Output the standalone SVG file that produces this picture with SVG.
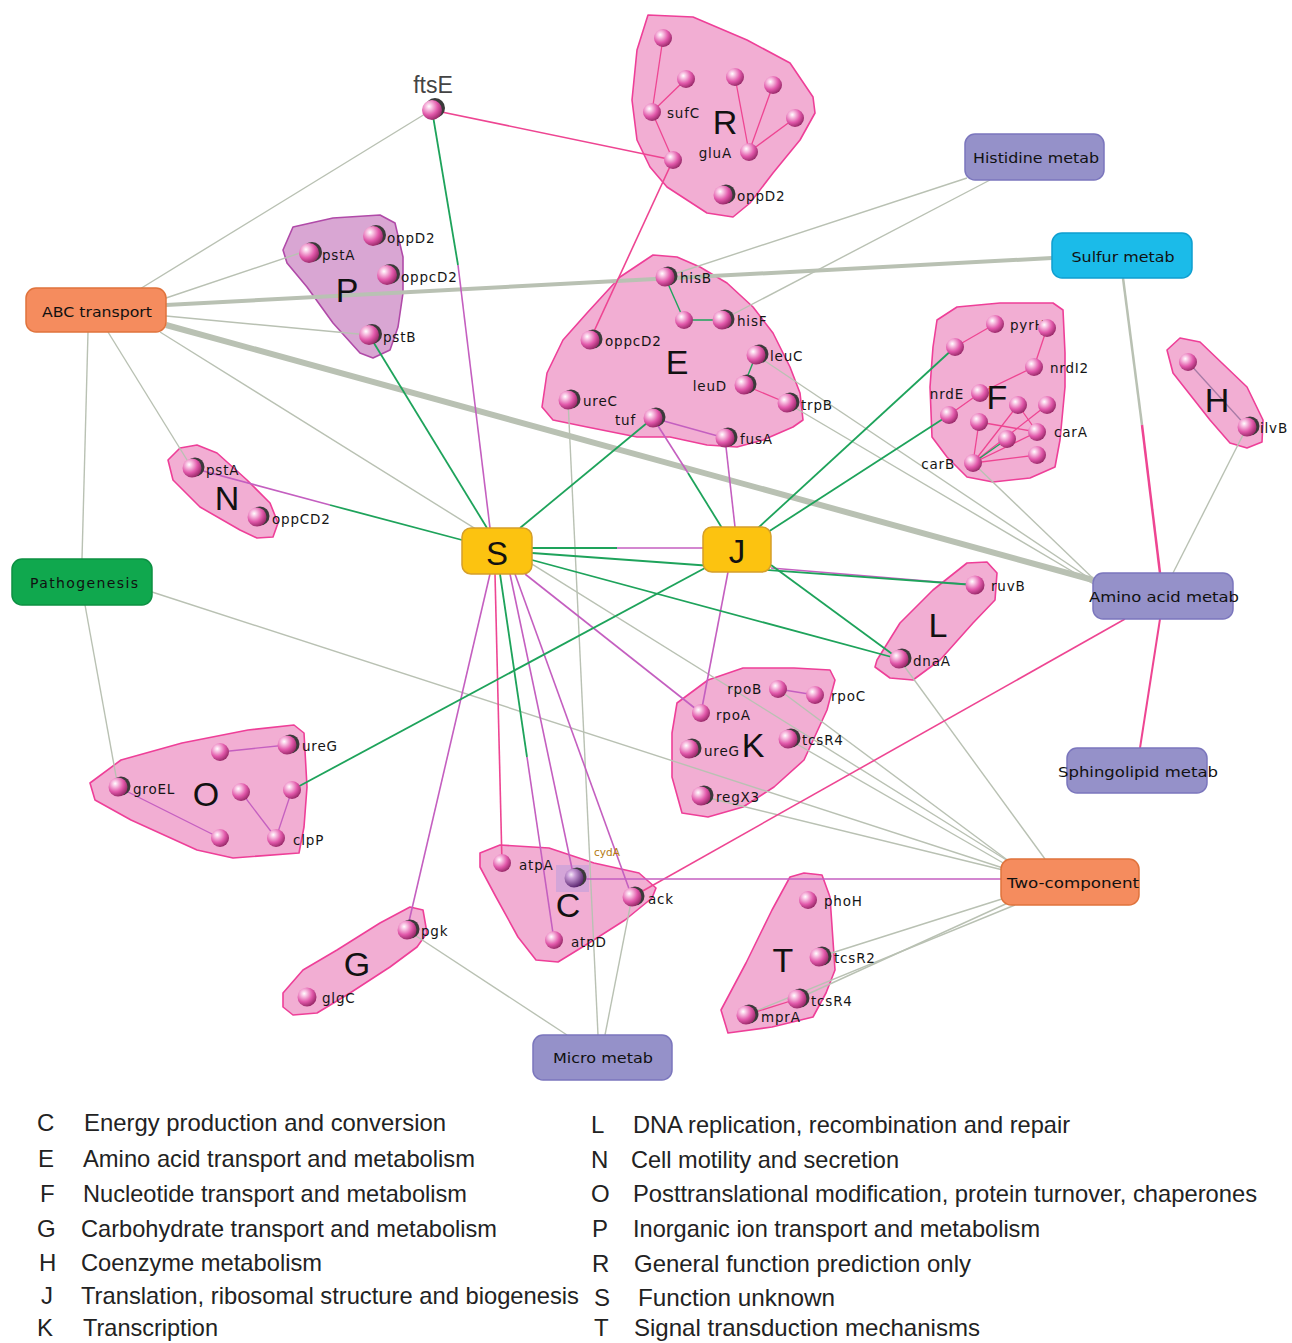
<svg xmlns="http://www.w3.org/2000/svg" width="1292" height="1343" viewBox="0 0 1292 1343">
<defs>
  <radialGradient id="sphere" cx="35%" cy="32%" r="70%">
    <stop offset="0" stop-color="#ffffff"/>
    <stop offset="0.22" stop-color="#f8c2e2"/>
    <stop offset="0.62" stop-color="#e158aa"/>
    <stop offset="1" stop-color="#9a2a6a"/>
  </radialGradient>
  <radialGradient id="sphereP" cx="35%" cy="32%" r="70%">
    <stop offset="0" stop-color="#f4e8f6"/>
    <stop offset="0.3" stop-color="#c89ad6"/>
    <stop offset="1" stop-color="#5a2670"/>
  </radialGradient>
  <style>
    .hull{fill:#f2aed3;stroke:#ee3f98;stroke-width:1.6;stroke-linejoin:round}
    .hullP{fill:#d9a6d3;stroke:#b04aa8;stroke-width:1.6;stroke-linejoin:round}
    .g{stroke:#b9c1b3;stroke-width:1.4;fill:none}
    .gr{stroke:#1ea35b;stroke-width:1.8;fill:none}
    .pu{stroke:#c45fc0;stroke-width:1.6;fill:none}
    .pk{stroke:#ee4592;stroke-width:1.6;fill:none}
    .ball{fill:url(#sphere)}
    .sh{fill:#3a3a3a}
    .lab{font-family:"DejaVu Sans",sans-serif;font-size:13.5px;letter-spacing:0.8px;fill:#151515}
    .big{font-family:"Liberation Sans",Arial,sans-serif;font-size:34px;fill:#111;text-anchor:middle}
    .box{stroke-width:1.5}
    .orange{fill:#f58c5e;stroke:#e0733c}
    .lav{fill:#9591c9;stroke:#7b76bd}
    .cyan{fill:#1bbbe9;stroke:#0f9fd0}
    .grn{fill:#10a84e;stroke:#0c9042}
    .gold{fill:#fcc310;stroke:#d59f2a}
    .blab{font-family:"DejaVu Sans",sans-serif;font-size:14px;fill:#111;text-anchor:middle}
    .leg{font-family:"Liberation Sans",Arial,sans-serif;font-size:24px;fill:#222}
  </style>
</defs>
<rect width="1292" height="1343" fill="#ffffff"/>

<!-- cluster hulls -->
<g id="clusters">
  <g id="cluster-P"><polygon class="hullP" points="283,250 293,227 333,218 380,215 395,223 403,257 403,293 398,327 390,350 373,358 360,353 333,323 307,287 287,263"/></g>
  <g id="cluster-R"><polygon class="hull" points="648,15 693,17 747,40 790,63 813,97 815,113 800,140 773,173 750,203 733,217 707,213 687,200 667,187 650,167 637,140 632,100 637,50"/></g>
  <g id="cluster-E"><polygon class="hull" points="653,255 677,257 700,267 727,283 753,307 773,333 790,367 800,393 803,420 793,427 763,440 737,447 707,445 670,437 637,437 587,427 553,420 542,407 547,373 563,340 587,313 620,277"/></g>
  <g id="cluster-F"><polygon class="hull" points="937,320 957,307 1000,303 1053,303 1063,310 1065,353 1065,387 1060,440 1055,467 1030,478 993,482 967,477 947,457 932,437 930,387 933,347"/></g>
  <g id="cluster-H"><polygon class="hull" points="1167,350 1180,338 1200,342 1247,387 1263,420 1262,442 1247,448 1230,443 1210,420 1173,373"/></g>
  <g id="cluster-N"><polygon class="hull" points="168,460 180,448 197,445 217,453 247,480 270,503 278,523 273,537 257,538 240,530 200,507 173,480"/></g>
  <g id="cluster-L"><polygon class="hull" points="877,660 900,623 933,590 967,563 987,562 997,573 995,600 973,623 940,660 913,680 890,678 875,667"/></g>
  <g id="cluster-O"><polygon class="hull" points="90,783 121,760 182,743 248,730 294,725 304,733 307,787 304,827 299,853 233,858 197,850 131,820 95,800"/></g>
  <g id="cluster-K"><polygon class="hull" points="677,703 708,680 743,668 794,668 830,670 835,680 827,710 804,760 774,787 743,807 708,817 682,813 672,777 672,733"/></g>
  <g id="cluster-C"><polygon class="hull" points="480,853 500,845 549,848 594,863 639,873 656,888 652,898 625,920 589,943 558,962 536,960 518,937 496,897 480,867"/>
    <rect x="556" y="865" width="33" height="27" fill="#c9a2d9" opacity="0.75"/></g>
  <g id="cluster-T"><polygon class="hull" points="790,877 804,873 822,875 830,897 835,970 826,993 813,1017 772,1027 728,1033 721,1010 746,963 772,910"/></g>
  <g id="cluster-G"><polygon class="hull" points="283,993 303,970 337,950 380,923 410,907 423,910 427,933 417,947 390,967 350,993 317,1013 293,1015 283,1007"/></g>
</g>

<!-- connectors -->
<g id="connectors">
  <!-- grey: category links -->
  <line class="g" x1="135" y1="292" x2="425" y2="114"/>
  <line class="g" x1="166" y1="298" x2="300" y2="253"/>
  <line class="g" x1="166" y1="305" x2="1052" y2="258" style="stroke-width:4"/>
  <line class="g" x1="166" y1="316" x2="369" y2="335"/>
  <line class="g" x1="166" y1="325" x2="1093" y2="580" style="stroke-width:6"/>
  <line class="g" x1="160" y1="332" x2="1008" y2="861"/>
  <line class="g" x1="108" y1="332" x2="192" y2="468"/>
  <line class="g" x1="88" y1="332" x2="82" y2="559"/>
  <line class="g" x1="85" y1="605" x2="118" y2="787"/>
  <line class="g" x1="152" y1="592" x2="1003" y2="868"/>
  <line class="g" x1="967" y1="178" x2="665" y2="277"/>
  <line class="g" x1="990" y1="180" x2="722" y2="320"/>
  <line class="g" x1="1123" y1="278" x2="1142" y2="425" style="stroke-width:2.5"/>
  <line class="g" x1="756" y1="355" x2="1095" y2="582"/>
  <line class="g" x1="787" y1="403" x2="1097" y2="586"/>
  <line class="g" x1="973" y1="463" x2="1100" y2="585"/>
  <line class="g" x1="1247" y1="427" x2="1173" y2="573"/>
  <line class="g" x1="568" y1="400" x2="598" y2="1035"/>
  <line class="g" x1="632" y1="897" x2="605" y2="1035"/>
  <line class="g" x1="407" y1="930" x2="567" y2="1035"/>
  <line class="g" x1="899" y1="659" x2="1045" y2="859"/>
  <line class="g" x1="778" y1="689" x2="1010" y2="862"/>
  <line class="g" x1="788" y1="739" x2="1005" y2="864"/>
  <line class="g" x1="701" y1="796" x2="1003" y2="870"/>
  <line class="g" x1="819" y1="957" x2="1005" y2="898"/>
  <line class="g" x1="797" y1="999" x2="1010" y2="902"/>
  <line class="g" x1="746" y1="1015" x2="1015" y2="905"/>
  <!-- pink -->
  <line class="pk" x1="1142" y1="425" x2="1160" y2="573" style="stroke-width:2.5"/>
  <line class="pk" x1="1160" y1="619" x2="1140" y2="748" style="stroke-width:2"/>
  <line class="pk" x1="1125" y1="619" x2="632" y2="897"/>
  <line class="pk" x1="432" y1="110" x2="673" y2="160"/>
  <line class="pk" x1="673" y1="160" x2="590" y2="340"/>
  <line class="pk" x1="495" y1="574" x2="502" y2="863"/>
  <!-- purple -->
  <line class="pu" x1="458" y1="265" x2="490" y2="528"/>
  <line class="pu" x1="192" y1="468" x2="330" y2="505"/>
  <line class="pu" x1="490" y1="574" x2="407" y2="930"/>
  <line class="pu" x1="510" y1="574" x2="574" y2="878"/>
  <line class="pu" x1="527" y1="757" x2="554" y2="940"/>
  <line class="pu" x1="515" y1="574" x2="632" y2="897"/>
  <line class="pu" x1="525" y1="574" x2="701" y2="713"/>
  <line class="pu" x1="728" y1="572" x2="701" y2="713"/>
  <line class="pu" x1="771" y1="568" x2="975" y2="585"/>
  <line class="pu" x1="574" y1="879" x2="1001" y2="879"/>
  <line class="pu" x1="617" y1="548" x2="703" y2="548"/>
  <line class="pu" x1="725" y1="438" x2="735" y2="527"/>
  <line class="pu" x1="653" y1="418" x2="688" y2="473"/>
  <!-- green -->
  <line class="gr" x1="432" y1="110" x2="458" y2="265"/>
  <line class="gr" x1="369" y1="335" x2="487" y2="528"/>
  <line class="gr" x1="330" y1="505" x2="462" y2="540"/>
  <line class="gr" x1="520" y1="528" x2="653" y2="418"/>
  <line class="gr" x1="532" y1="548" x2="617" y2="548"/>
  <line class="gr" x1="532" y1="553" x2="975" y2="585"/>
  <line class="gr" x1="532" y1="560" x2="899" y2="659"/>
  <line class="gr" x1="771" y1="565" x2="899" y2="659"/>
  <line class="gr" x1="705" y1="568" x2="292" y2="790"/>
  <line class="gr" x1="758" y1="528" x2="955" y2="347"/>
  <line class="gr" x1="768" y1="532" x2="949" y2="415"/>
  <line class="gr" x1="500" y1="574" x2="527" y2="757"/>
  <line class="gr" x1="688" y1="473" x2="722" y2="528"/>
  <!-- links inside clusters -->
  <g class="pk" style="stroke-width:1.3">
    <line x1="663" y1="38" x2="652" y2="112"/>
    <line x1="686" y1="79" x2="652" y2="112"/>
    <line x1="652" y1="112" x2="673" y2="160"/>
    <line x1="735" y1="77" x2="749" y2="152"/>
    <line x1="773" y1="85" x2="749" y2="152"/>
    <line x1="795" y1="118" x2="749" y2="152"/>
    <line x1="744" y1="385" x2="787" y2="403"/>
    <line x1="955" y1="347" x2="995" y2="324"/>
    <line x1="1047" y1="328" x2="1034" y2="367"/>
    <line x1="1034" y1="367" x2="980" y2="393"/>
    <line x1="980" y1="393" x2="949" y2="415"/>
    <line x1="979" y1="422" x2="973" y2="463"/>
    <line x1="1018" y1="405" x2="973" y2="463"/>
    <line x1="1047" y1="405" x2="973" y2="463"/>
    <line x1="1037" y1="432" x2="973" y2="463"/>
    <line x1="1037" y1="455" x2="973" y2="463"/>
    <line x1="979" y1="422" x2="1037" y2="432"/>
    <line x1="1018" y1="405" x2="1037" y2="432"/>
    <line x1="746" y1="1015" x2="797" y2="999"/>
  </g>
  <g class="gr" style="stroke-width:1.4">
    <line x1="665" y1="277" x2="684" y2="320"/>
    <line x1="684" y1="320" x2="722" y2="320"/>
    <line x1="756" y1="355" x2="744" y2="385"/>
    <line x1="1007" y1="439" x2="973" y2="463"/>
  </g>
  <g class="pu" style="stroke-width:1.3">
    <line x1="653" y1="418" x2="725" y2="438"/>
    <line x1="778" y1="689" x2="815" y2="695"/>
    <line x1="220" y1="752" x2="287" y2="745"/>
    <line x1="118" y1="787" x2="220" y2="838"/>
    <line x1="241" y1="792" x2="276" y2="838"/>
    <line x1="292" y1="790" x2="276" y2="838"/>
    <line x1="1188" y1="362" x2="1247" y2="427" style="stroke:#a77ba6"/>
  </g>
</g>

<!-- cluster letters -->
<g id="cluster-letters">
  <text class="big" x="347" y="302">P</text>
  <text class="big" x="725" y="134">R</text>
  <text class="big" x="677" y="374">E</text>
  <text class="big" x="997" y="409">F</text>
  <text class="big" x="1217" y="412">H</text>
  <text class="big" x="227" y="510">N</text>
  <text class="big" x="938" y="637">L</text>
  <text class="big" x="753" y="757">K</text>
  <text class="big" x="206" y="806">O</text>
  <text class="big" x="568" y="917">C</text>
  <text class="big" x="783" y="972">T</text>
  <text class="big" x="357" y="976">G</text>
</g>

<!-- gene nodes -->
<g id="n-ftsE"><circle class="sh" cx="435" cy="108" r="10"/><circle class="ball" cx="432" cy="110" r="10"/>
  <text x="433" y="93" style="font-family:'Liberation Sans',Arial,sans-serif;font-size:23px;fill:#444;text-anchor:middle">ftsE</text></g>

<g id="n-P-pstA"><circle class="sh" cx="312" cy="252" r="10"/><circle class="ball" cx="309" cy="253" r="10"/><text class="lab" x="322" y="260">pstA</text></g>
<g id="n-P-oppD2"><circle class="sh" cx="376" cy="235" r="10"/><circle class="ball" cx="373" cy="236" r="10"/><text class="lab" x="387" y="243">oppD2</text></g>
<g id="n-P-oppcD2"><circle class="sh" cx="390" cy="274" r="10"/><circle class="ball" cx="387" cy="275" r="10"/><text class="lab" x="401" y="282">oppcD2</text></g>
<g id="n-P-pstB"><circle class="sh" cx="372" cy="334" r="10"/><circle class="ball" cx="369" cy="335" r="10"/><text class="lab" x="383" y="342">pstB</text></g>

<g id="n-R-1"><circle class="ball" cx="663" cy="38" r="9"/></g>
<g id="n-R-2"><circle class="ball" cx="686" cy="79" r="9"/></g>
<g id="n-R-sufC"><circle class="ball" cx="652" cy="112" r="9"/><text class="lab" x="667" y="118">sufC</text></g>
<g id="n-R-4"><circle class="ball" cx="673" cy="160" r="9"/></g>
<g id="n-R-5"><circle class="ball" cx="735" cy="77" r="9"/></g>
<g id="n-R-6"><circle class="ball" cx="773" cy="85" r="9"/></g>
<g id="n-R-7"><circle class="ball" cx="795" cy="118" r="9"/></g>
<g id="n-R-gluA"><circle class="ball" cx="749" cy="152" r="9"/><text class="lab" x="732" y="158" text-anchor="end">gluA</text></g>
<g id="n-R-oppD2"><circle class="sh" cx="726" cy="194" r="9.5"/><circle class="ball" cx="723" cy="195" r="9.5"/><text class="lab" x="737" y="201">oppD2</text></g>

<g id="n-E-hisB"><circle class="sh" cx="668" cy="276" r="9.5"/><circle class="ball" cx="665" cy="277" r="9.5"/><text class="lab" x="680" y="283">hisB</text></g>
<g id="n-E-2"><circle class="ball" cx="684" cy="320" r="9"/></g>
<g id="n-E-hisF"><circle class="sh" cx="725" cy="319" r="9.5"/><circle class="ball" cx="722" cy="320" r="9.5"/><text class="lab" x="737" y="326">hisF</text></g>
<g id="n-E-oppcD2"><circle class="sh" cx="593" cy="339" r="9.5"/><circle class="ball" cx="590" cy="340" r="9.5"/><text class="lab" x="605" y="346">oppcD2</text></g>
<g id="n-E-leuC"><circle class="sh" cx="759" cy="354" r="9.5"/><circle class="ball" cx="756" cy="355" r="9.5"/><text class="lab" x="770" y="361">leuC</text></g>
<g id="n-E-leuD"><circle class="sh" cx="747" cy="384" r="9.5"/><circle class="ball" cx="744" cy="385" r="9.5"/><text class="lab" x="727" y="391" text-anchor="end">leuD</text></g>
<g id="n-E-trpB"><circle class="sh" cx="790" cy="402" r="9.5"/><circle class="ball" cx="787" cy="403" r="9.5"/><text class="lab" x="801" y="410">trpB</text></g>
<g id="n-E-ureC"><circle class="sh" cx="571" cy="399" r="9.5"/><circle class="ball" cx="568" cy="400" r="9.5"/><text class="lab" x="583" y="406">ureC</text></g>
<g id="n-E-tuf"><circle class="sh" cx="656" cy="417" r="9.5"/><circle class="ball" cx="653" cy="418" r="9.5"/><text class="lab" x="636" y="425" text-anchor="end">tuf</text></g>
<g id="n-E-fusA"><circle class="sh" cx="728" cy="437" r="9.5"/><circle class="ball" cx="725" cy="438" r="9.5"/><text class="lab" x="740" y="444">fusA</text></g>

<g id="n-F-pyrH"><text class="lab" x="1010" y="330">pyrH</text><circle class="ball" cx="995" cy="324" r="9"/></g>
<g id="n-F-1"><circle class="ball" cx="955" cy="347" r="9"/></g>
<g id="n-F-3"><circle class="ball" cx="1047" cy="328" r="9"/></g>
<g id="n-F-nrdI2"><circle class="ball" cx="1034" cy="367" r="9"/><text class="lab" x="1050" y="373">nrdI2</text></g>
<g id="n-F-nrdE"><circle class="ball" cx="980" cy="393" r="9"/><text class="lab" x="964" y="399" text-anchor="end">nrdE</text></g>
<g id="n-F-6"><circle class="ball" cx="949" cy="415" r="9"/></g>
<g id="n-F-7"><circle class="ball" cx="1018" cy="405" r="9"/></g>
<g id="n-F-8"><circle class="ball" cx="1047" cy="405" r="9"/></g>
<g id="n-F-9"><circle class="ball" cx="979" cy="422" r="9"/></g>
<g id="n-F-carA"><circle class="ball" cx="1037" cy="432" r="9"/><text class="lab" x="1054" y="437">carA</text></g>
<g id="n-F-11"><circle class="ball" cx="1007" cy="439" r="9"/></g>
<g id="n-F-12"><circle class="ball" cx="1037" cy="455" r="9"/></g>
<g id="n-F-carB"><circle class="ball" cx="973" cy="463" r="9"/><text class="lab" x="955" y="469" text-anchor="end">carB</text></g>

<g id="n-H-1"><circle class="ball" cx="1188" cy="362" r="9"/></g>
<g id="n-H-ilvB"><circle class="sh" cx="1250" cy="426" r="9.5"/><circle class="ball" cx="1247" cy="427" r="9.5"/><text class="lab" x="1260" y="433">ilvB</text></g>

<g id="n-N-pstA"><circle class="sh" cx="195" cy="467" r="9.5"/><circle class="ball" cx="192" cy="468" r="9.5"/><text class="lab" x="206" y="475">pstA</text></g>
<g id="n-N-oppCD2"><circle class="sh" cx="260" cy="516" r="9.5"/><circle class="ball" cx="257" cy="517" r="9.5"/><text class="lab" x="272" y="524">oppCD2</text></g>

<g id="n-L-ruvB"><circle class="ball" cx="975" cy="585" r="9.5"/><text class="lab" x="991" y="591">ruvB</text></g>
<g id="n-L-dnaA"><circle class="sh" cx="902" cy="658" r="9.5"/><circle class="ball" cx="899" cy="659" r="9.5"/><text class="lab" x="913" y="666">dnaA</text></g>

<g id="n-K-rpoB"><circle class="ball" cx="778" cy="689" r="9"/><text class="lab" x="762" y="694" text-anchor="end">rpoB</text></g>
<g id="n-K-rpoC"><circle class="ball" cx="815" cy="695" r="9"/><text class="lab" x="831" y="701">rpoC</text></g>
<g id="n-K-rpoA"><circle class="ball" cx="701" cy="713" r="9"/><text class="lab" x="716" y="720">rpoA</text></g>
<g id="n-K-ureG"><circle class="sh" cx="692" cy="748" r="9.5"/><circle class="ball" cx="689" cy="749" r="9.5"/><text class="lab" x="704" y="756">ureG</text></g>
<g id="n-K-tcsR4"><circle class="sh" cx="791" cy="738" r="9.5"/><circle class="ball" cx="788" cy="739" r="9.5"/><text class="lab" x="802" y="745">tcsR4</text></g>
<g id="n-K-regX3"><circle class="sh" cx="704" cy="795" r="9.5"/><circle class="ball" cx="701" cy="796" r="9.5"/><text class="lab" x="716" y="802">regX3</text></g>

<g id="n-O-groEL"><circle class="sh" cx="121" cy="786" r="9.5"/><circle class="ball" cx="118" cy="787" r="9.5"/><text class="lab" x="133" y="794">groEL</text></g>
<g id="n-O-2"><circle class="ball" cx="220" cy="752" r="9"/></g>
<g id="n-O-ureG"><circle class="sh" cx="290" cy="744" r="9.5"/><circle class="ball" cx="287" cy="745" r="9.5"/><text class="lab" x="302" y="751">ureG</text></g>
<g id="n-O-4"><circle class="ball" cx="241" cy="792" r="9"/></g>
<g id="n-O-5"><circle class="ball" cx="292" cy="790" r="9"/></g>
<g id="n-O-6"><circle class="ball" cx="220" cy="838" r="9"/></g>
<g id="n-O-clpP"><circle class="ball" cx="276" cy="838" r="9"/><text class="lab" x="293" y="845">clpP</text></g>

<g id="n-C-atpA"><circle class="ball" cx="502" cy="863" r="9"/><text class="lab" x="519" y="870">atpA</text></g>
<g id="n-C-cydA"><circle class="sh" cx="577" cy="877" r="9.5"/><circle cx="574" cy="878" r="9.5" fill="url(#sphereP)"/>
  <text x="594" y="856" style="font-family:'DejaVu Sans',sans-serif;font-size:10.5px;fill:#b27a10">cydA</text></g>
<g id="n-C-ack"><circle class="sh" cx="635" cy="896" r="9.5"/><circle class="ball" cx="632" cy="897" r="9.5"/><text class="lab" x="648" y="904">ack</text></g>
<g id="n-C-atpD"><circle class="ball" cx="554" cy="940" r="9"/><text class="lab" x="571" y="947">atpD</text></g>

<g id="n-T-phoH"><circle class="ball" cx="808" cy="900" r="9"/><text class="lab" x="824" y="906">phoH</text></g>
<g id="n-T-tcsR2"><circle class="sh" cx="822" cy="956" r="9.5"/><circle class="ball" cx="819" cy="957" r="9.5"/><text class="lab" x="834" y="963">tcsR2</text></g>
<g id="n-T-tcsR4"><circle class="sh" cx="800" cy="998" r="9.5"/><circle class="ball" cx="797" cy="999" r="9.5"/><text class="lab" x="811" y="1006">tcsR4</text></g>
<g id="n-T-mprA"><circle class="sh" cx="749" cy="1014" r="9.5"/><circle class="ball" cx="746" cy="1015" r="9.5"/><text class="lab" x="761" y="1022">mprA</text></g>

<g id="n-G-pgk"><circle class="sh" cx="410" cy="929" r="9.5"/><circle class="ball" cx="407" cy="930" r="9.5"/><text class="lab" x="421" y="936">pgk</text></g>
<g id="n-G-glgC"><circle class="ball" cx="307" cy="997" r="9.5"/><text class="lab" x="322" y="1003">glgC</text></g>

<!-- category boxes -->
<g id="box-abc"><rect class="box orange" x="26" y="288" width="140" height="44" rx="10"/><text class="blab" x="97" y="317" textLength="110" lengthAdjust="spacingAndGlyphs">ABC transport</text></g>
<g id="box-pathogenesis"><rect class="box grn" x="12" y="559" width="140" height="46" rx="10"/><text class="blab" x="84" y="588" textLength="108" lengthAdjust="spacing">Pathogenesis</text></g>
<g id="box-histidine"><rect class="box lav" x="965" y="134" width="139" height="46" rx="10"/><text class="blab" x="1036" y="163" textLength="126" lengthAdjust="spacingAndGlyphs">Histidine metab</text></g>
<g id="box-sulfur"><rect class="box cyan" x="1052" y="233" width="140" height="45" rx="10"/><text class="blab" x="1123" y="262" textLength="103" lengthAdjust="spacingAndGlyphs">Sulfur metab</text></g>
<g id="box-aminoacid"><rect class="box lav" x="1093" y="573" width="140" height="46" rx="10"/><text class="blab" x="1164" y="602" textLength="150" lengthAdjust="spacingAndGlyphs">Amino acid metab</text></g>
<g id="box-sphingolipid"><rect class="box lav" x="1067" y="748" width="140" height="45" rx="10"/><text class="blab" x="1138" y="777" textLength="160" lengthAdjust="spacingAndGlyphs">Sphingolipid metab</text></g>
<g id="box-twocomponent"><rect class="box orange" x="1001" y="859" width="138" height="46" rx="10"/><text class="blab" x="1073" y="888" textLength="132" lengthAdjust="spacingAndGlyphs">Two-component</text></g>
<g id="box-micro"><rect class="box lav" x="533" y="1035" width="139" height="45" rx="10"/><text class="blab" x="603" y="1063" textLength="100" lengthAdjust="spacingAndGlyphs">Micro metab</text></g>
<g id="box-S"><rect class="box gold" x="462" y="528" width="70" height="46" rx="9"/><text x="497" y="565" style="font-family:'Liberation Sans',Arial,sans-serif;font-size:33px;fill:#111;text-anchor:middle">S</text></g>
<g id="box-J"><rect class="box gold" x="703" y="527" width="68" height="45" rx="9"/><text x="737" y="563" style="font-family:'Liberation Sans',Arial,sans-serif;font-size:33px;fill:#111;text-anchor:middle">J</text></g>

<!-- legend -->
<g id="legend" class="leg">
  <text x="37" y="1131">C</text><text x="84" y="1131" textLength="362" lengthAdjust="spacingAndGlyphs">Energy production and conversion</text>
  <text x="38" y="1167">E</text><text x="83" y="1167" textLength="392" lengthAdjust="spacingAndGlyphs">Amino acid transport and metabolism</text>
  <text x="40" y="1202">F</text><text x="83" y="1202" textLength="384" lengthAdjust="spacingAndGlyphs">Nucleotide transport and metabolism</text>
  <text x="37" y="1237">G</text><text x="81" y="1237" textLength="416" lengthAdjust="spacingAndGlyphs">Carbohydrate transport and metabolism</text>
  <text x="39" y="1271">H</text><text x="81" y="1271" textLength="241" lengthAdjust="spacingAndGlyphs">Coenzyme metabolism</text>
  <text x="41" y="1304">J</text><text x="81" y="1304" textLength="498" lengthAdjust="spacingAndGlyphs">Translation, ribosomal structure and biogenesis</text>
  <text x="37" y="1336">K</text><text x="83" y="1336" textLength="135" lengthAdjust="spacingAndGlyphs">Transcription</text>

  <text x="591" y="1133">L</text><text x="633" y="1133" textLength="437" lengthAdjust="spacingAndGlyphs">DNA replication, recombination and repair</text>
  <text x="591" y="1168">N</text><text x="631" y="1168" textLength="268" lengthAdjust="spacingAndGlyphs">Cell motility and secretion</text>
  <text x="591" y="1202">O</text><text x="633" y="1202" textLength="624" lengthAdjust="spacingAndGlyphs">Posttranslational modification, protein turnover, chaperones</text>
  <text x="592" y="1237">P</text><text x="633" y="1237" textLength="407" lengthAdjust="spacingAndGlyphs">Inorganic ion transport and metabolism</text>
  <text x="592" y="1272">R</text><text x="634" y="1272" textLength="337" lengthAdjust="spacingAndGlyphs">General function prediction only</text>
  <text x="594" y="1306">S</text><text x="638" y="1306" textLength="197" lengthAdjust="spacingAndGlyphs">Function unknown</text>
  <text x="594" y="1336">T</text><text x="634" y="1336" textLength="346" lengthAdjust="spacingAndGlyphs">Signal transduction mechanisms</text>
</g>
</svg>
